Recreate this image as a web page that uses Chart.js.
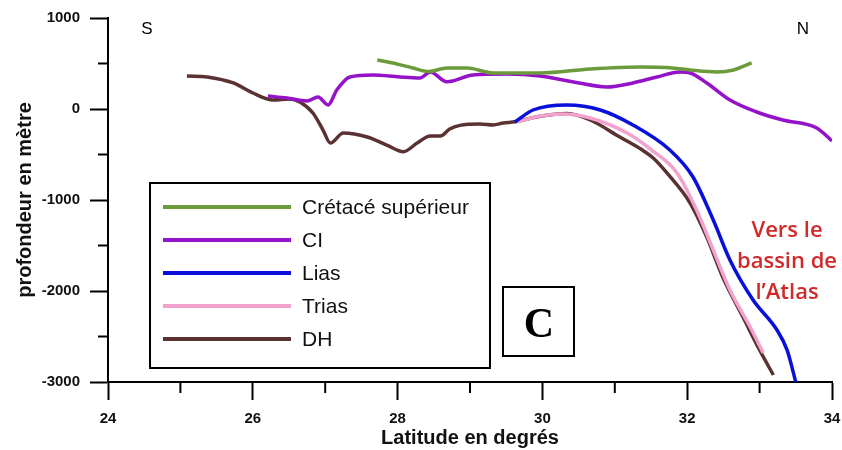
<!DOCTYPE html>
<html>
<head>
<meta charset="utf-8">
<script src="https://cdn.jsdelivr.net/npm/chart.js@4/dist/chart.umd.min.js"></script>
<style>
  html, body { margin: 0; padding: 0; background: #fff; }
  #wrap { width: 842px; height: 450px; }
</style>
</head>
<body>
<div id="wrap"><canvas id="c" width="842" height="450"></canvas></div>
<script>
// ---- Data (latitude in degrees, depth in metres) ----
const seriesNames = ['Crétacé supérieur', 'CI', 'Lias', 'Trias', 'DH'];

const latCretace = [27.72, 27.99, 28.21, 28.43, 28.68, 28.96, 29.32, 29.97, 30.66, 31.35, 31.80, 32.04, 32.41, 32.64, 32.89];
const depthCretace = [538, 495, 451, 412, 451, 451, 396, 396, 440, 462, 451, 429, 407, 429, 506];

const latCI = [26.21, 26.47, 26.75, 26.90, 27.04, 27.16, 27.34, 27.66, 28.03, 28.31, 28.45, 28.68, 29.04, 29.51, 29.97, 30.43, 30.89, 31.25, 31.58, 31.90, 32.04, 32.27, 32.59, 32.96, 33.32, 33.79, 34.0];
const depthCI = [143, 121, 88, 132, 44, 209, 352, 374, 352, 341, 407, 300, 374, 385, 363, 297, 242, 286, 352, 407, 396, 286, 99, -33, -121, -209, -352];

const latLias = [29.62, 29.87, 30.34, 30.8, 31.25, 31.76, 32.08, 32.36, 32.59, 32.91, 33.24, 33.38, 33.5];
const depthLias = [-143, -11, 44, -11, -176, -451, -747, -1220, -1659, -2099, -2429, -2649, -3000];

const latTrias = [29.65, 29.97, 30.28, 30.66, 31.17, 31.51, 31.86, 32.13, 32.36, 32.59, 32.87, 33.05];
const depthTrias = [-143, -77, -55, -99, -264, -451, -703, -1110, -1550, -1989, -2396, -2681];

const latDH = [25.09, 25.37, 25.73, 26.0, 26.28, 26.51, 26.65, 26.83, 26.97, 27.07, 27.25, 27.58, 27.85, 28.08, 28.27, 28.45, 28.59, 28.72, 28.86, 29.14, 29.32, 29.46, 29.62, 29.97, 30.34, 30.66, 31.07, 31.38, 31.53, 31.72, 32.04, 32.27, 32.49, 32.77, 33.0, 33.19];
const depthDH = [363, 352, 286, 176, 99, 110, 77, -44, -231, -374, -264, -308, -396, -470, -374, -297, -297, -220, -180, -165, -176, -154, -140, -80, -50, -121, -308, -451, -539, -703, -1033, -1407, -1846, -2286, -2649, -2923];

const xTickValues = [24, 26, 28, 30, 32, 34];
const yTickValues = [1000, 0, -1000, -2000, -3000];
const sideLabels = ['S', 'N'];
const panelLabel = 'C';
const noteLines = ['Vers le', 'bassin de', 'l\u2019Atlas'];

const colors = ['#6b9b3a', '#9412c8', '#0a10dc', '#f2a2cc', '#5a3232'];

function pts(xs, ys) { return xs.map((x, i) => ({ x: x, y: ys[i] })); }
const seriesData = [
  pts(latCretace, depthCretace),
  pts(latCI, depthCI),
  pts(latLias, depthLias),
  pts(latTrias, depthTrias),
  pts(latDH, depthDH)
];

const datasets = seriesNames.map((name, i) => ({
  label: name,
  data: seriesData[i],
  borderColor: colors[i],
  backgroundColor: colors[i],
  borderWidth: 3.5,
  pointRadius: 0,
  showLine: true,
  fill: false,
  cubicInterpolationMode: 'monotone'
}));

const bgPlugin = {
  id: 'bg',
  beforeDraw(chart) {
    const ctx = chart.ctx;
    ctx.save();
    ctx.fillStyle = '#fff';
    ctx.fillRect(0, 0, chart.width, chart.height);
    ctx.restore();
  }
};

const decorPlugin = {
  id: 'decor',
  afterDraw(chart) {
    const ctx = chart.ctx;
    const xs = chart.scales.x, ys = chart.scales.y;
    const area = chart.chartArea;
    ctx.save();
    // minor ticks
    ctx.strokeStyle = '#000';
    ctx.lineWidth = 2;
    xs.ticks.forEach(t => {
      if (!xTickValues.includes(t.value)) {
        const px = xs.getPixelForValue(t.value);
        ctx.beginPath(); ctx.moveTo(px, area.bottom); ctx.lineTo(px, area.bottom + 11); ctx.stroke();
      }
    });
    ys.ticks.forEach(t => {
      if (!yTickValues.includes(t.value)) {
        const py = ys.getPixelForValue(t.value);
        ctx.beginPath(); ctx.moveTo(area.left, py); ctx.lineTo(area.left - 10, py); ctx.stroke();
      }
    });

    // S / N
    ctx.fillStyle = '#000';
    ctx.font = '17px "Liberation Sans", Arial, sans-serif';
    ctx.textAlign = 'center';
    ctx.textBaseline = 'middle';
    ctx.fillText(sideLabels[0], 147, 29);
    ctx.fillText(sideLabels[1], 803, 29);

    // Legend box
    ctx.lineWidth = 2;
    ctx.strokeStyle = '#000';
    ctx.strokeRect(150, 183, 340, 185);
    ctx.font = '21px "Liberation Sans", Arial, sans-serif';
    ctx.textAlign = 'left';
    chart.data.datasets.forEach((ds, i) => {
      const y = 207 + i * 33;
      ctx.strokeStyle = ds.borderColor;
      ctx.lineWidth = 4;
      ctx.beginPath(); ctx.moveTo(163, y); ctx.lineTo(291, y); ctx.stroke();
      ctx.fillStyle = '#111';
      ctx.fillText(ds.label, 302, y + 1);
    });

    // Panel label box
    ctx.lineWidth = 2;
    ctx.strokeStyle = '#000';
    ctx.strokeRect(503, 287, 71, 69);
    ctx.fillStyle = '#000';
    ctx.font = 'bold 42px "Liberation Serif", "Times New Roman", serif';
    ctx.textAlign = 'center';
    ctx.textBaseline = 'alphabetic';
    ctx.fillText(panelLabel, 539, 337);

    // Red note
    ctx.fillStyle = '#d02a2a';
    ctx.font = '600 22px "Open Sans", sans-serif';
    noteLines.forEach((s, i) => ctx.fillText(s, 787, 237 + i * 31));
    ctx.restore();
  }
};

new Chart(document.getElementById('c'), {
  type: 'scatter',
  data: { datasets: datasets },
  plugins: [bgPlugin, decorPlugin],
  options: {
    responsive: false,
    animation: false,
    events: [],
    layout: { padding: { top: 18, right: 10, bottom: 0, left: 0 } },
    plugins: { legend: { display: false }, tooltip: { enabled: false } },
    scales: {
      x: {
        type: 'linear',
        min: 24, max: 34,
        afterFit(s) { s.height = 68; s.paddingLeft = 0; s.paddingRight = 0; },
        border: { display: true, color: '#000', width: 2 },
        grid: {
          display: true, drawOnChartArea: false, drawTicks: true,
          tickLength: 18, tickWidth: 2,
          tickColor: c => (c.tick && xTickValues.includes(c.tick.value)) ? '#000' : 'rgba(0,0,0,0)'
        },
        ticks: {
          stepSize: 1, autoSkip: false, maxRotation: 0, padding: 10,
          color: '#111',
          font: { family: '"Liberation Sans", Arial, sans-serif', size: 15, weight: 'bold' },
          callback: v => xTickValues.includes(v) ? String(v) : ''
        },
        title: {
          display: true, text: 'Latitude en degrés', color: '#111',
          font: { family: '"Liberation Sans", Arial, sans-serif', size: 20, weight: 'bold', lineHeight: 1.2 },
          padding: { top: 0, bottom: 0 }
        }
      },
      y: {
        type: 'linear',
        min: -3000, max: 1000,
        afterFit(s) { s.width = 108; s.paddingTop = 0; s.paddingBottom = 0; },
        border: { display: true, color: '#000', width: 2 },
        grid: {
          display: true, drawOnChartArea: false, drawTicks: true,
          tickLength: 18, tickWidth: 2,
          tickColor: c => (c.tick && yTickValues.includes(c.tick.value)) ? '#000' : 'rgba(0,0,0,0)'
        },
        ticks: {
          stepSize: 500, autoSkip: false, padding: 10,
          color: '#111',
          font: { family: '"Liberation Sans", Arial, sans-serif', size: 15, weight: 'bold' },
          callback: v => yTickValues.includes(v) ? String(v) : ''
        },
        title: {
          display: true, text: 'profondeur en mètre', color: '#111',
          font: { family: '"Liberation Sans", Arial, sans-serif', size: 20, weight: 'bold', lineHeight: 1.2 },
          padding: { top: 13, bottom: 0 }
        }
      }
    }
  }
});
</script>
</body>
</html>
